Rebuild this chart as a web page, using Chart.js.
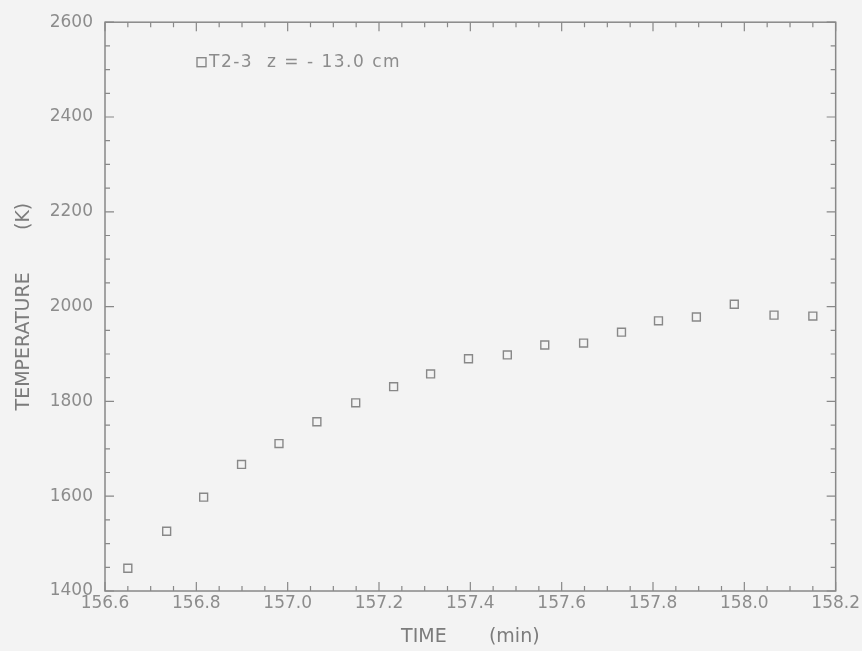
<!DOCTYPE html>
<html>
<head>
<meta charset="utf-8">
<script src="https://cdn.jsdelivr.net/npm/chart.js@4/dist/chart.umd.min.js"></script>
<style>
  html, body { margin: 0; padding: 0; background: #f3f3f3; }
  #wrap { width: 862px; height: 651px; }
</style>
</head>
<body>
<div id="wrap"><canvas id="c" width="862" height="651"></canvas></div>
<script>
// ---- data ----
const seriesName = 'T2-3  z = - 13.0 cm';
const timeMin = [156.650, 156.735, 156.816, 156.899, 156.981, 157.064, 157.149, 157.232, 157.313, 157.396,
                 157.481, 157.563, 157.648, 157.731, 157.812, 157.895, 157.978, 158.065, 158.150];
const temperatureK = [1448, 1526, 1598, 1667, 1711, 1757, 1797, 1831, 1858, 1890,
                      1898, 1919, 1923, 1946, 1970, 1978, 2005, 1982, 1980];
const xTickLabels = [156.6, 156.8, 157.0, 157.2, 157.4, 157.6, 157.8, 158.0, 158.2];
const yTickLabels = [1400, 1600, 1800, 2000, 2200, 2400, 2600];
const xTitle = 'TIME       (min)';
const yTitle = 'TEMPERATURE       (K)';

const INK = '#888888';
const TXT = '#8c8c8c';
const TITLE = '#7c7c7c';
const FONT = 'DejaVu Sans';

const points = timeMin.map((t, i) => ({ x: t, y: temperatureK[i] }));

// frame with inward major/minor ticks on all four sides, plus in-plot legend
const frameTicks = {
  id: 'frameTicks',
  afterDraw(chart) {
    const { ctx, chartArea: a, scales: { x, y } } = chart;
    ctx.save();
    ctx.strokeStyle = INK;
    ctx.lineWidth = 1.5;
    ctx.strokeRect(a.left, a.top, a.right - a.left, a.bottom - a.top);
    ctx.lineWidth = 1.2;
    // x ticks: minor every 0.05 min, major every 0.2 min
    const nx = Math.round((x.max - x.min) / 0.05);
    for (let i = 0; i <= nx; i++) {
      const v = x.min + i * 0.05;
      const px = x.getPixelForValue(v);
      const len = (i % 4 === 0) ? 9 : 5;
      ctx.beginPath();
      ctx.moveTo(px, a.bottom); ctx.lineTo(px, a.bottom - len);
      ctx.moveTo(px, a.top); ctx.lineTo(px, a.top + len);
      ctx.stroke();
    }
    // y ticks: minor every 50 K, major every 200 K
    const ny = Math.round((y.max - y.min) / 50);
    for (let i = 0; i <= ny; i++) {
      const v = y.min + i * 50;
      const py = y.getPixelForValue(v);
      const len = (i % 4 === 0) ? 9 : 5;
      ctx.beginPath();
      ctx.moveTo(a.left, py); ctx.lineTo(a.left + len, py);
      ctx.moveTo(a.right, py); ctx.lineTo(a.right - len, py);
      ctx.stroke();
    }
    // legend: marker + label
    const lx = a.left + 92, ly = a.top + 40;
    ctx.lineWidth = 1.4;
    ctx.strokeRect(lx, ly - 4.5, 9, 9);
    ctx.fillStyle = TXT;
    ctx.font = '17px "' + FONT + '"';
    ctx.textBaseline = 'middle';
    ctx.textAlign = 'left';
    try { ctx.letterSpacing = '1.5px'; } catch (e) {}
    ctx.fillText(seriesName, lx + 12, ly);
    ctx.restore();
  }
};

new Chart(document.getElementById('c'), {
  type: 'scatter',
  data: {
    datasets: [{
      label: seriesName,
      data: points,
      pointStyle: 'rect',
      pointRadius: 5.6,
      pointBorderWidth: 1.4,
      borderColor: INK,
      backgroundColor: 'rgba(0,0,0,0)',
      showLine: false
    }]
  },
  options: {
    responsive: false,
    animation: false,
    devicePixelRatio: 1,
    layout: { padding: { top: 20, right: 23, left: 0, bottom: 0 } },
    plugins: { legend: { display: false }, tooltip: { enabled: false } },
    scales: {
      x: {
        type: 'linear',
        min: xTickLabels[0],
        max: xTickLabels[xTickLabels.length - 1],
        afterBuildTicks(s) { s.ticks = xTickLabels.map(v => ({ value: v })); },
        afterFit(s) { s.height = 60; },
        grid: { display: false, drawTicks: false },
        border: { display: false },
        ticks: {
          color: TXT, padding: 2, maxRotation: 0, autoSkip: false,
          font: { family: FONT, size: 17 },
          callback: v => Number(v).toFixed(1)
        },
        title: {
          display: true, text: xTitle, color: TITLE,
          font: { family: FONT, size: 19 },
          padding: { top: 0, bottom: 3 }
        }
      },
      y: {
        type: 'linear',
        min: yTickLabels[0],
        max: yTickLabels[yTickLabels.length - 1],
        afterBuildTicks(s) { s.ticks = yTickLabels.map(v => ({ value: v })); },
        afterFit(s) { s.width = 105; },
        grid: { display: false, drawTicks: false },
        border: { display: false },
        ticks: {
          color: TXT, padding: 12, autoSkip: false,
          font: { family: FONT, size: 17 },
          callback: v => String(v)
        },
        title: {
          display: true, text: yTitle, color: TITLE,
          font: { family: FONT, size: 19 },
          padding: { top: 13, bottom: 0 }
        }
      }
    }
  },
  plugins: [frameTicks]
});
</script>
</body>
</html>
